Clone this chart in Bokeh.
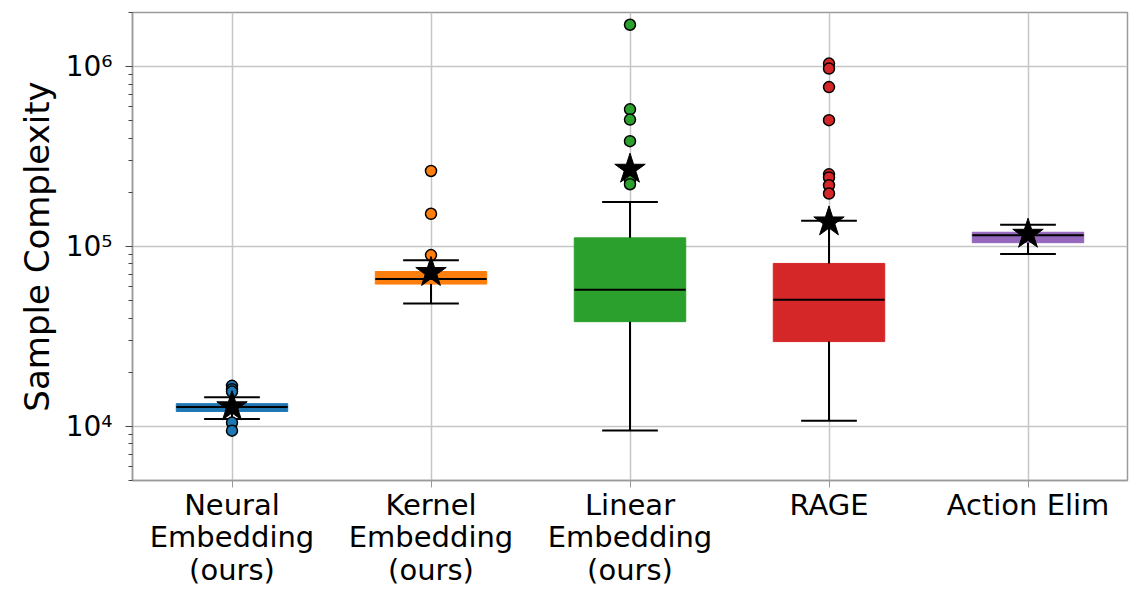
from bokeh.plotting import figure
from bokeh.models import Range1d, FixedTicker
from bokeh.embed import file_html
from bokeh.resources import INLINE

# ---- data ----
categories = ["Neural\nEmbedding\n(ours)", "Kernel\nEmbedding\n(ours)",
              "Linear\nEmbedding\n(ours)", "RAGE", "Action Elim"]
colors = ["#1f77b4", "#ff7f0e", "#2ca02c", "#d62728", "#9467bd"]
q1 = [1.21e4, 6.18e4, 3.82e4, 2.96e4, 1.05e5]
median = [1.28e4, 6.59e4, 5.75e4, 5.06e4, 1.156e5]
q3 = [1.337e4, 7.26e4, 1.117e5, 8.05e4, 1.20e5]
whisker_low = [1.10e4, 4.82e4, 9.47e3, 1.076e4, 9.08e4]
whisker_high = [1.45e4, 8.39e4, 1.77e5, 1.39e5, 1.32e5]
means = [1.285e4, 7.17e4, 2.69e5, 1.37e5, 1.17e5]
outliers_neural = [1.68e4, 1.61e4, 1.56e4, 1.05e4, 9.46e3]
outliers_kernel = [2.63e5, 1.52e5, 8.96e4]
outliers_linear = [1.71e6, 5.79e5, 5.08e5, 3.85e5, 2.32e5, 2.22e5]
outliers_rage = [1.04e6, 9.75e5, 7.7e5, 5.04e5, 2.52e5, 2.42e5, 2.19e5, 1.97e5]
outliers_action = []
outliers = [outliers_neural, outliers_kernel, outliers_linear, outliers_rage, outliers_action]

y_tick_values = [1e4, 1e5, 1e6]
y_tick_labels = ["10\u2074", "10\u2075", "10\u2076"]

# ---- layout constants ----
box_width = 0.56
cap_width = 0.28
xs = list(range(1, len(categories) + 1))
FONT = "DejaVu Sans"

p = figure(width=1129, height=589, x_range=Range1d(0.5, 5.5),
           y_range=Range1d(5.0e3, 2.0e6), y_axis_type="log",
           output_backend="svg", toolbar_location=None,
           min_border_left=132, min_border_top=12, min_border_right=2,
           min_border_bottom=109)
p.background_fill_color = "white"
p.border_fill_color = "white"
p.outline_line_color = "#9a9a9a"
p.outline_line_width = 1.5

# grid
p.xgrid.grid_line_color = "#c6c6c6"
p.ygrid.grid_line_color = "#c6c6c6"
p.xgrid.grid_line_width = 1.5
p.ygrid.grid_line_width = 1.5

# boxes
p.vbar(x=xs, width=box_width, bottom=q1, top=q3, fill_color=colors,
       line_color=colors, line_width=1)

# whiskers
p.segment(x0=xs, y0=q3, x1=xs, y1=whisker_high, line_color="black", line_width=2)
p.segment(x0=xs, y0=q1, x1=xs, y1=whisker_low, line_color="black", line_width=2)
p.segment(x0=[x - cap_width / 2 for x in xs], y0=whisker_high,
          x1=[x + cap_width / 2 for x in xs], y1=whisker_high,
          line_color="black", line_width=2)
p.segment(x0=[x - cap_width / 2 for x in xs], y0=whisker_low,
          x1=[x + cap_width / 2 for x in xs], y1=whisker_low,
          line_color="black", line_width=2)
# medians
p.segment(x0=[x - box_width / 2 for x in xs], y0=median,
          x1=[x + box_width / 2 for x in xs], y1=median,
          line_color="black", line_width=2)

# outliers
for x, c, vals in zip(xs, colors, outliers):
    if vals:
        p.scatter(x=[x] * len(vals), y=vals, marker="circle", size=11,
                  fill_color=c, line_color="black", line_width=1.5)

# means
p.scatter(x=xs, y=means, marker="star", size=32, fill_color="black",
          line_color="black", line_width=1)

# y axis
yax = p.yaxis[0]
yax.ticker = FixedTicker(
    ticks=y_tick_values,
    minor_ticks=[m * 10 ** e for e in range(3, 7) for m in range(2, 10)])
yax.major_label_overrides = {v: s for v, s in zip(y_tick_values, y_tick_labels)}
yax.axis_label = "Sample Complexity"
yax.axis_label_text_font = FONT
yax.axis_label_text_font_size = "34px"
yax.axis_label_text_font_style = "normal"
yax.axis_label_text_color = "black"
yax.axis_label_standoff = 6
yax.major_label_text_font = FONT
yax.major_label_text_font_size = "28px"
yax.major_label_text_color = "black"
yax.major_label_standoff = 13
yax.axis_line_color = "#9a9a9a"
yax.axis_line_width = 1.5
yax.major_tick_line_color = "#444444"
yax.minor_tick_line_color = "#444444"
yax.major_tick_out = 7
yax.major_tick_in = 0
yax.minor_tick_out = 4
yax.minor_tick_in = 0
p.ygrid.ticker = FixedTicker(ticks=y_tick_values)

# x axis
xax = p.xaxis[0]
xax.ticker = FixedTicker(ticks=xs)
xax.major_label_overrides = {x: c for x, c in zip(xs, categories)}
xax.major_label_text_font = FONT
xax.major_label_text_font_size = "29px"
xax.major_label_text_color = "black"
xax.major_label_text_line_height = 0.96
xax.major_label_standoff = 0
xax.axis_line_color = "#9a9a9a"
xax.axis_line_width = 1.5
xax.major_tick_line_color = "#9a9a9a"
xax.major_tick_out = 7
xax.major_tick_in = 0
xax.minor_tick_line_color = None
p.xgrid.ticker = FixedTicker(ticks=xs)

open("out.html", "w").write(file_html(p, INLINE))
